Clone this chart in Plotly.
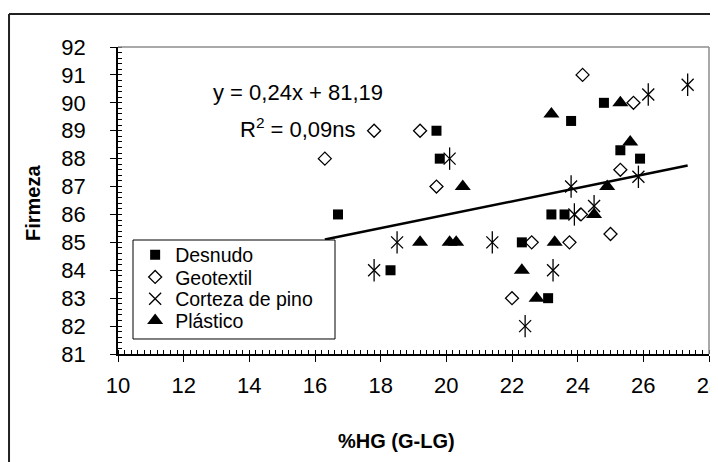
import plotly.graph_objects as go

# %HG (G-LG) vs Firmeza
desnudo_x = [16.7, 18.3, 19.7, 19.8, 22.3, 23.1, 23.2, 23.6, 23.8, 24.8, 25.3, 25.9]
desnudo_y = [86.0, 84.0, 89.0, 88.0, 85.0, 83.0, 86.0, 86.0, 89.35, 90.0, 88.3, 88.0]

geotextil_x = [16.3, 17.8, 19.2, 19.7, 22.0, 22.6, 23.75, 24.1, 24.15, 25.0, 25.3, 25.7]
geotextil_y = [88.0, 89.0, 89.0, 87.0, 83.0, 85.0, 85.0, 86.0, 91.0, 85.3, 87.6, 90.0]

corteza_x = [17.8, 18.5, 20.1, 21.4, 22.4, 23.25, 23.8, 23.9, 24.5, 25.85, 26.15, 27.35]
corteza_y = [84.0, 85.0, 88.0, 85.0, 82.0, 84.0, 87.0, 86.0, 86.3, 87.35, 90.3, 90.65]

plastico_x = [19.2, 20.1, 20.3, 20.5, 22.3, 22.75, 23.2, 23.3, 24.5, 24.9, 25.3, 25.6]
plastico_y = [85.0, 85.0, 85.0, 87.0, 84.0, 83.0, 89.6, 85.0, 86.0, 87.0, 90.0, 88.6]

# trend line from the equation shown on the chart
slope, intercept = 0.24, 81.19
all_x = desnudo_x + geotextil_x + corteza_x + plastico_x
trend_x = [min(all_x), max(all_x)]
trend_y = [slope * v + intercept for v in trend_x]

FONT = "Liberation Sans, Arial, sans-serif"

fig = go.Figure()

fig.add_trace(go.Scatter(x=trend_x, y=trend_y, mode="lines",
                         line=dict(color="black", width=2.5), showlegend=False))

fig.add_trace(go.Scatter(x=desnudo_x, y=desnudo_y, mode="markers", name="Desnudo",
                         legend="legend",
                         marker=dict(symbol="square", size=10, color="black")))
fig.add_trace(go.Scatter(x=geotextil_x, y=geotextil_y, mode="markers", name="Geotextil",
                         legend="legend2",
                         marker=dict(symbol="diamond-open", size=10, color="black",
                                     line=dict(width=1.3, color="black"))))
# asterisk drawn as an X plus a vertical bar
fig.add_trace(go.Scatter(x=corteza_x, y=corteza_y, mode="markers", name="Corteza de pino",
                         legend="legend3",
                         marker=dict(symbol="x-thin-open", size=12, color="black",
                                     line=dict(width=1.3, color="black"))))
fig.add_trace(go.Scatter(x=corteza_x, y=corteza_y, mode="markers", showlegend=False,
                         marker=dict(symbol="line-ns-open", size=16, color="black",
                                     line=dict(width=1.3, color="black"))))
fig.add_trace(go.Scatter(x=plastico_x, y=plastico_y, mode="markers", name="Plástico",
                         legend="legend4",
                         marker=dict(symbol="triangle-up", size=14, color="black")))

fig.add_annotation(x=15.48, y=90.38, text="y = 0,24x + 81,19", showarrow=False,
                   font=dict(family=FONT, size=22, color="black"))
fig.add_annotation(x=15.48, y=89.11, text="R<sup>2</sup> = 0,09ns", showarrow=False,
                   font=dict(family=FONT, size=22, color="black"))

# axis titles
fig.add_annotation(xref="paper", yref="paper", x=0.472, y=-0.285, text="<b>%HG (G-LG)</b>",
                   xanchor="center", yanchor="middle",
                   showarrow=False, font=dict(family=FONT, size=20, color="black"))
fig.add_annotation(xref="paper", yref="paper", x=-0.1438, y=0.492, text="<b>Firmeza</b>",
                   xanchor="center", yanchor="middle",
                   textangle=-90, showarrow=False, font=dict(family=FONT, size=20, color="black"))

# plot area frame (grey, top and right)
fig.add_shape(type="line", xref="paper", yref="paper", x0=0, y0=1, x1=1, y1=1,
              line=dict(color="#8c8c8c", width=1.5))
fig.add_shape(type="line", xref="paper", yref="paper", x0=1, y0=0, x1=1, y1=1,
              line=dict(color="#8c8c8c", width=1.5))
# outer chart frame (left and top visible)
fig.add_shape(type="line", xref="paper", yref="paper", x0=-0.1844, y0=-0.4, x1=-0.1844, y1=1.1075,
              line=dict(color="#222222", width=2))
fig.add_shape(type="line", xref="paper", yref="paper", x0=-0.1844, y0=1.1075, x1=1.05, y1=1.1075,
              line=dict(color="#222222", width=2))
# legend box
fig.add_shape(type="rect", xref="paper", yref="paper", x0=0.0254, y0=0.0489, x1=0.3672, y1=0.3713,
              line=dict(color="black", width=1), fillcolor="white", layer="above")

leg = dict(x=0.029, xanchor="left", yanchor="middle", bgcolor="rgba(0,0,0,0)",
           borderwidth=0, font=dict(family=FONT, size=19.5, color="black"))

fig.update_layout(
    width=710, height=454,
    margin=dict(l=110, r=9, t=39, b=108),
    paper_bgcolor="white", plot_bgcolor="white",
    font=dict(family=FONT, size=22, color="black"),
    showlegend=True,
    legend=dict(leg, y=0.322),
    legend2=dict(leg, y=0.25),
    legend3=dict(leg, y=0.179),
    legend4=dict(leg, y=0.108),
    xaxis=dict(range=[10, 28], dtick=2, tick0=10, showgrid=False, zeroline=False,
               showline=True, linecolor="black", linewidth=1.5, automargin=False,
               ticks="outside", ticklen=6, tickcolor="black", ticklabeloverflow="allow",
               ticklabelstandoff=5,
               minor=dict(dtick=0.2, ticks="inside", ticklen=4, tickcolor="black"),
               tickfont=dict(size=22)),
    yaxis=dict(range=[81, 92], dtick=1, tick0=81, showgrid=False, zeroline=False,
               showline=True, linecolor="black", linewidth=1.5, automargin=False,
               ticks="outside", ticklen=6, tickcolor="black", ticklabelstandoff=20,
               minor=dict(dtick=0.2, ticks="inside", ticklen=4, tickcolor="black"),
               tickfont=dict(size=22)),
    xaxis2=dict(overlaying="x", range=[10, 28], dtick=2, tick0=10, showgrid=False,
                zeroline=False, showticklabels=False, ticks="inside", ticklen=5,
                tickcolor="black", automargin=False),
    yaxis2=dict(overlaying="y", range=[81, 92], dtick=1, tick0=81, showgrid=False,
                zeroline=False, showticklabels=False, ticks="inside", ticklen=5,
                tickcolor="black", automargin=False),
)

fig.write_html("out.html")
